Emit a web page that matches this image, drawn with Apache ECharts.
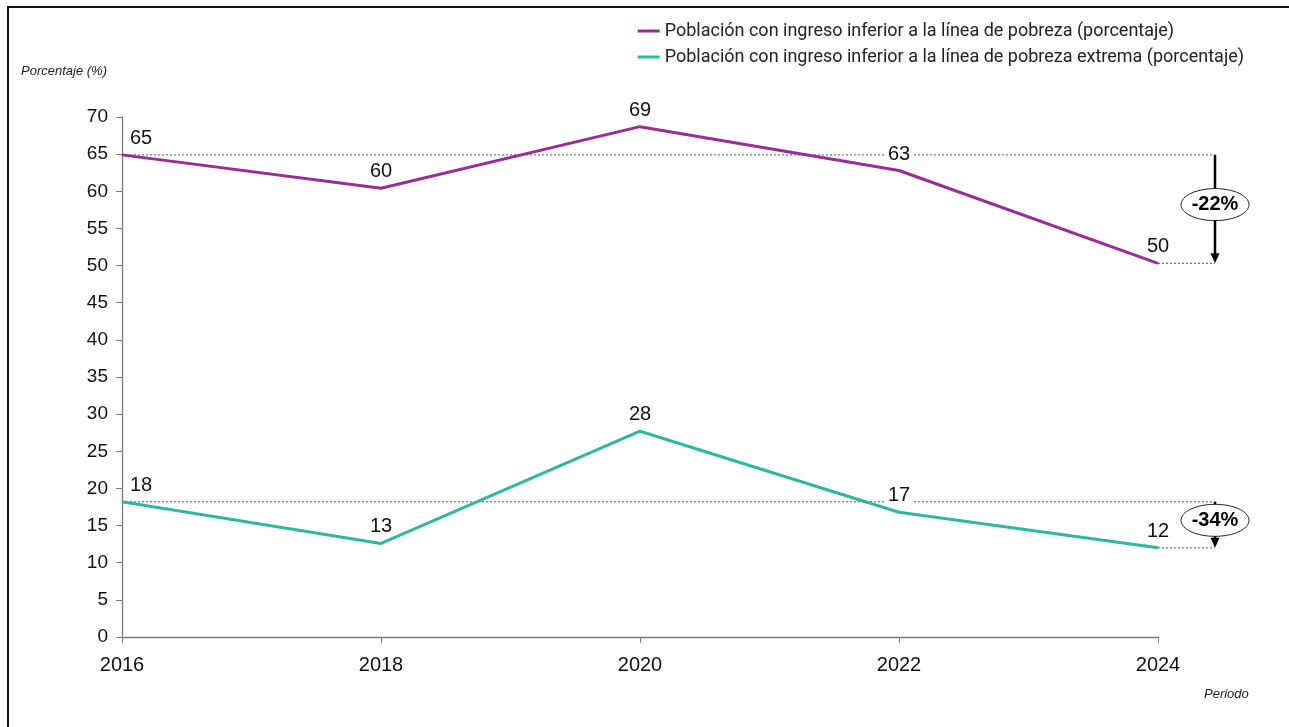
<!DOCTYPE html>
<html><head><meta charset="utf-8">
<script src="https://cdn.jsdelivr.net/npm/echarts@6/dist/echarts.min.js"></script>
<style>html,body{margin:0;padding:0;background:#fff}#c{width:1289px;height:727px}</style>
</head><body><div id="c"></div>
<script>
const years = [2016, 2018, 2020, 2022, 2024];
const pobreza = [64.9, 60.4, 68.7, 62.8, 50.3];
const pobrezaExtrema = [18.2, 12.6, 27.7, 16.8, 12.0];
const pobrezaLabels = ['65', '60', '69', '63', '50'];
const extremaLabels = ['18', '13', '28', '17', '12'];
const seriesNames = [
  'Población con ingreso inferior a la línea de pobreza (porcentaje)',
  'Población con ingreso inferior a la línea de pobreza extrema (porcentaje)'
];
const changeLabels = ['-22%', '-34%'];
const yAxisTitle = 'Porcentaje (%)';
const xAxisTitle = 'Periodo';
const colors = ['#9A2C97', '#2DB99A'];

const chart = echarts.init(document.getElementById('c'), null, {renderer: 'canvas'});
const numFont = 'Liberation Sans';
const legFont = 'Roboto';

function mkData(vals, labs) {
  return vals.map((v, i) => ({
    value: [years[i], v],
    label: {
      formatter: labs[i],
      offset: i === 0 ? [19, 0] : [0, 0],
      backgroundColor: i === 3 ? '#fff' : 'transparent'
    }
  }));
}

const baseLabel = {
  show: true, position: 'top', distance: 6,
  fontFamily: numFont, fontSize: 20, color: '#111',
  padding: [0, 2]
};

chart.setOption({
  animation: false,
  backgroundColor: '#fff',
  grid: {left: 122, right: 131, top: 117, bottom: 90, containLabel: false},
  legend: {
    orient: 'vertical', right: 40, top: 17, align: 'left',
    itemWidth: 22, itemHeight: 3, itemGap: 8, icon: 'rect',
    textStyle: {fontFamily: legFont, fontSize: 18, color: '#222'},
    data: seriesNames
  },
  xAxis: {
    type: 'value', min: years[0], max: years[years.length - 1], interval: 2,
    axisLine: {show: true, lineStyle: {color: '#7a7a7a', width: 1.3}},
    axisTick: {show: true, length: 6, inside: false, lineStyle: {color: '#7a7a7a'}},
    splitLine: {show: false},
    axisLabel: {formatter: v => String(v), fontFamily: numFont, fontSize: 20, color: '#111', margin: 18}
  },
  yAxis: {
    type: 'value', min: 0, max: 70, interval: 5,
    axisLine: {show: true, lineStyle: {color: '#7a7a7a', width: 1.3}},
    axisTick: {show: true, length: 6, lineStyle: {color: '#7a7a7a'}},
    splitLine: {show: false},
    axisLabel: {fontFamily: numFont, fontSize: 19, color: '#111', margin: 14}
  },
  series: [
    {
      name: seriesNames[0], type: 'line', symbol: 'circle', symbolSize: 1, z: 3,
      lineStyle: {color: colors[0], width: 3}, itemStyle: {color: colors[0]},
      label: baseLabel, data: mkData(pobreza, pobrezaLabels)
    },
    {
      name: seriesNames[1], type: 'line', symbol: 'circle', symbolSize: 1, z: 3,
      lineStyle: {color: colors[1], width: 3}, itemStyle: {color: colors[1]},
      label: baseLabel, data: mkData(pobrezaExtrema, extremaLabels)
    }
  ]
});

function px(x, y) { return chart.convertToPixel({gridIndex: 0}, [x, y]); }

const graphics = [];
graphics.push({type: 'rect', shape: {x: 8, y: 7, width: 1400, height: 800}, style: {fill: 'none', stroke: '#111', lineWidth: 2}, z: 0, silent: true});
graphics.push({type: 'text', left: 21, top: 65, style: {text: yAxisTitle, font: 'italic 13px "Liberation Sans"', fill: '#222'}});
graphics.push({type: 'text', left: 1204, top: 688, style: {text: xAxisTitle, font: 'italic 13px "Liberation Sans"', fill: '#222'}});

const lastIdx = years.length - 1;
[[pobreza, changeLabels[0]], [pobrezaExtrema, changeLabels[1]]].forEach(([vals, lab]) => {
  const pStart = px(years[0], vals[0]);
  const pEnd = px(years[lastIdx], vals[lastIdx]);
  const ax = pEnd[0] + 57;
  const dash = {stroke: '#555', lineWidth: 1, lineDash: [2, 2]};
  graphics.push({type: 'line', z: 1, shape: {x1: pStart[0], y1: pStart[1], x2: ax, y2: pStart[1]}, style: dash});
  graphics.push({type: 'line', z: 1, shape: {x1: pEnd[0], y1: pEnd[1], x2: ax, y2: pEnd[1]}, style: dash});
  graphics.push({type: 'line', z: 5, shape: {x1: ax, y1: pStart[1], x2: ax, y2: pEnd[1] - 8}, style: {stroke: '#000', lineWidth: 2.5}});
  graphics.push({type: 'polygon', z: 5, shape: {points: [[ax - 4.5, pEnd[1] - 10], [ax + 4.5, pEnd[1] - 10], [ax, pEnd[1]]]}, style: {fill: '#000'}});
  const cy = (pStart[1] + pEnd[1]) / 2 - 4.5;
  graphics.push({type: 'ellipse', z: 6, shape: {cx: ax, cy: cy, rx: 34, ry: 16}, style: {fill: '#fff', stroke: '#222', lineWidth: 1}});
  graphics.push({type: 'text', z: 7, x: ax, y: cy, style: {text: lab, font: 'bold 20px "Liberation Sans"', fill: '#000', align: 'center', verticalAlign: 'middle'}});
});

chart.setOption({graphic: {elements: graphics}});
</script>
</body></html>
